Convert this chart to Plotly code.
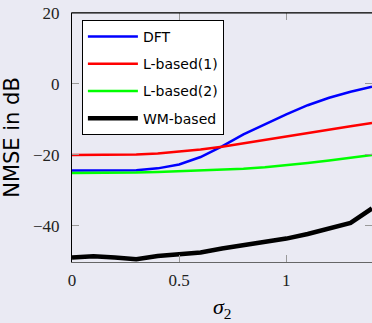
import plotly.graph_objects as go

sigma2 = [0.0, 0.1, 0.2, 0.3, 0.4, 0.5, 0.6, 0.7, 0.8, 0.9, 1.0, 1.1, 1.2, 1.3, 1.4]
dft = [-24.4, -24.4, -24.4, -24.3, -23.8, -22.7, -20.6, -17.6, -14.2, -11.3, -8.6, -6.0, -3.9, -2.2, -0.8]
lbased1 = [-20.0, -20.0, -20.0, -19.9, -19.6, -19.1, -18.5, -17.7, -16.7, -15.8, -14.8, -13.7, -12.8, -11.9, -11.0]
lbased2 = [-25.1, -25.1, -25.0, -25.0, -24.8, -24.6, -24.4, -24.2, -23.9, -23.5, -23.0, -22.3, -21.6, -20.8, -20.0]
wmbased = [-48.9, -48.6, -48.9, -49.4, -48.5, -48.1, -47.5, -46.4, -45.5, -44.6, -43.6, -42.3, -40.9, -39.2, -35.1]

names = ["DFT", "L-based(1)", "L-based(2)", "WM-based"]
colors = ["#0000ff", "#ff0000", "#00ff00", "#000000"]
widths = [2.5, 2.5, 2.5, 4.5]
series = [dft, lbased1, lbased2, wmbased]

x_ticks = [0, 0.5, 1]
y_ticks = [-40, -20, 0, 20]

fig = go.Figure()
for nm, c, w, ys in zip(names, colors, widths, series):
    fig.add_trace(go.Scatter(x=sigma2, y=ys, mode="lines", name=nm,
                             legendgroup=nm,
                             line=dict(color=c, width=w), cliponaxis=True))

bg = "#eaeaf3"
serif = "Liberation Serif"
fig.update_layout(
    width=372, height=323,
    margin=dict(l=72, r=0, t=13, b=61),
    paper_bgcolor=bg, plot_bgcolor=bg,
    showlegend=True,
    legend=dict(x=0.033, y=0.972, xanchor="left", yanchor="top",
                bgcolor="white", bordercolor="black", borderwidth=1,
                font=dict(family="DejaVu Sans", size=14, color="black"),
                itemwidth=50,
                traceorder="grouped", tracegroupgap=6),
    xaxis=dict(range=[0, 1.4], tickvals=x_ticks, ticktext=["0", "0.5", "1"],
               showgrid=False, zeroline=False, automargin=False,
               showline=True, linecolor="#666666", linewidth=1,
               mirror="ticks", ticks="inside", ticklen=7, tickcolor="#999999",
               tickfont=dict(family=serif, size=17, color="#222222"),
               ticklabelstandoff=3),
    yaxis=dict(range=[-50.2, 20], tickvals=y_ticks,
               showgrid=False, zeroline=False, automargin=False,
               showline=True, linecolor="black", linewidth=1,
               mirror="ticks", ticks="inside", ticklen=7, tickcolor="#999999",
               tickfont=dict(family=serif, size=17, color="#222222"),
               ticklabelstandoff=8,
               title=dict(text="NMSE in dB", standoff=8,
                          font=dict(family="DejaVu Sans", size=21, color="black"))),
)
fig.add_annotation(text="<i>σ</i><sub>2</sub>", xref="paper", yref="paper",
                   x=0.5, y=-0.185, xanchor="center", yanchor="middle",
                   showarrow=False,
                   font=dict(family=serif, size=22, color="black"))
fig.add_shape(type="line", xref="paper", yref="paper", x0=0, x1=1, y0=1, y1=1,
              line=dict(color="black", width=1))

fig.write_html("out.html")
